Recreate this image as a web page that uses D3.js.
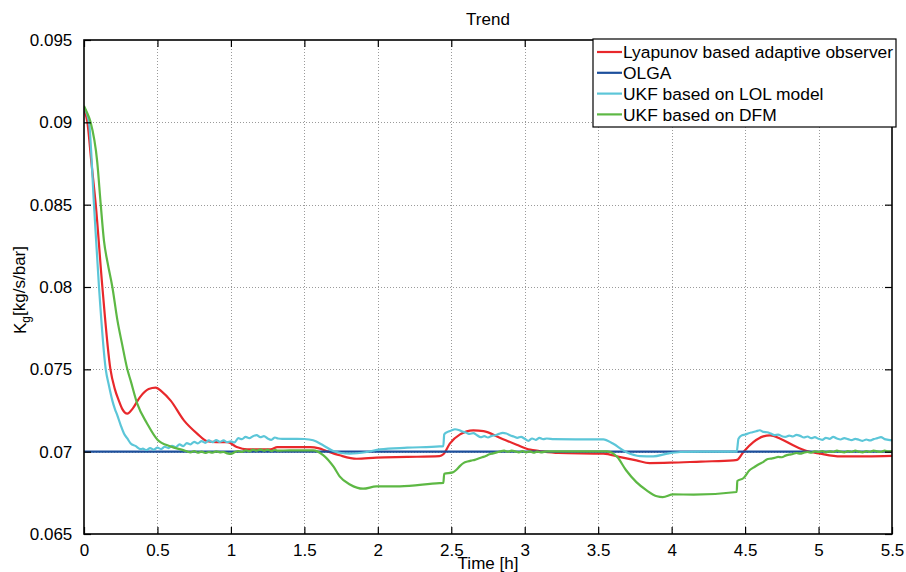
<!DOCTYPE html>
<html>
<head>
<meta charset="utf-8">
<script src="https://cdn.jsdelivr.net/npm/d3@7"></script>
<style>
  html, body { margin: 0; padding: 0; background: #fff; }
  svg { display: block; font-family: "Liberation Sans", Arial, Helvetica, sans-serif; }
</style>
</head>
<body>
<svg id="chart" width="906" height="572"></svg>
<script>
// Estimated gas coefficient K_g over time for four estimators.
const seriesNames = ["Lyapunov based adaptive observer", "OLGA", "UKF based on LOL model", "UKF based on DFM"];
const seriesColors = ["#e8282b", "#1c4f9c", "#5cc6d8", "#5db844"];

const xTicks = [0, 0.5, 1, 1.5, 2, 2.5, 3, 3.5, 4, 4.5, 5, 5.5];
const xTickLabels = ["0", "0.5", "1", "1.5", "2", "2.5", "3", "3.5", "4", "4.5", "5", "5.5"];
const yTicks = [0.065, 0.07, 0.075, 0.08, 0.085, 0.09, 0.095];
const yTickLabels = ["0.065", "0.07", "0.075", "0.08", "0.085", "0.09", "0.095"];

// Lyapunov based adaptive observer
const lyapT = [0, 0.023, 0.05, 0.08, 0.125, 0.18, 0.21, 0.237, 0.26, 0.295, 0.33, 0.38, 0.44, 0.488, 0.53, 0.59, 0.68, 0.77, 0.84, 0.9, 0.976, 1.04, 1.11, 1.27, 1.316, 1.54, 1.60, 1.65, 1.74, 1.856, 1.99, 2.2, 2.42, 2.446, 2.49, 2.56, 2.65, 2.72, 2.83, 2.945, 3.036, 3.10, 3.23, 3.535, 3.65, 3.76, 3.85, 3.99, 4.2, 4.42, 4.445, 4.49, 4.556, 4.624, 4.67, 4.74, 4.83, 4.92, 5.01, 5.15, 5.33, 5.5];
const lyapV = [0.0908, 0.0900, 0.0876, 0.0850, 0.0800, 0.0750, 0.0738, 0.0731, 0.0726, 0.07231, 0.0726, 0.0733, 0.0738, 0.07389, 0.07365, 0.0731, 0.0719, 0.0711, 0.07063, 0.07058, 0.07058, 0.07028, 0.07014, 0.07014, 0.07028, 0.07028, 0.0702, 0.07004, 0.06978, 0.06957, 0.06964, 0.06968, 0.06973, 0.06984, 0.07049, 0.07105, 0.07129, 0.07125, 0.07085, 0.07042, 0.07012, 0.07004, 0.06992, 0.06988, 0.06967, 0.06947, 0.06931, 0.06933, 0.0694, 0.06947, 0.0695, 0.0700, 0.07058, 0.07093, 0.07099, 0.07079, 0.07038, 0.07004, 0.06988, 0.06971, 0.06971, 0.06974];

// OLGA reference
const olgaT = [0, 5.5];
const olgaV = [0.07, 0.07];

// UKF based on LOL model
const lolT = [0, 0.034, 0.068, 0.102, 0.148, 0.17, 0.193, 0.21, 0.227, 0.25, 0.272, 0.295, 0.318, 0.35, 0.386,
  0.40, 0.425, 0.45, 0.475, 0.50, 0.525, 0.55, 0.575, 0.60, 0.625, 0.65, 0.675, 0.70, 0.725, 0.75, 0.775, 0.80, 0.825, 0.85, 0.875, 0.90, 0.925, 0.95, 0.975, 1.00, 1.025, 1.05, 1.075, 1.10, 1.125, 1.15, 1.175, 1.20, 1.225, 1.25, 1.275, 1.30, 1.32,
  1.35, 1.45, 1.50, 1.56, 1.63, 1.697, 1.75, 1.81, 1.925, 2.015, 2.2, 2.42, 2.446, 2.452,
  2.475, 2.50, 2.525, 2.55, 2.575, 2.60, 2.625, 2.65, 2.675, 2.70, 2.725, 2.75, 2.775, 2.80, 2.825, 2.85, 2.875, 2.90, 2.925, 2.95, 2.975, 3.00, 3.025, 3.05, 3.075, 3.10, 3.125, 3.15, 3.20,
  3.35, 3.535, 3.60, 3.69, 3.785, 3.875, 3.97, 4.06, 4.2, 4.443, 4.455,
  4.477, 4.50, 4.525, 4.55, 4.575, 4.60, 4.625, 4.65, 4.675, 4.70, 4.725, 4.75, 4.775, 4.80, 4.825, 4.85, 4.875, 4.90, 4.925, 4.95, 4.975, 5.00, 5.025, 5.05, 5.075, 5.10, 5.125, 5.15, 5.175, 5.20, 5.225, 5.25, 5.275, 5.30, 5.325, 5.35, 5.375, 5.40, 5.425, 5.45, 5.475, 5.50];
const lolV = [0.0909, 0.0900, 0.0850, 0.0800, 0.0750, 0.0740, 0.0731, 0.0726, 0.0722, 0.0716, 0.0711, 0.0708, 0.0705, 0.07035, 0.07015,
  0.07018, 0.07010, 0.07022, 0.07012, 0.07024, 0.07016, 0.07030, 0.07022, 0.07036, 0.07028, 0.07044, 0.07034, 0.07052, 0.07044, 0.07060, 0.07050, 0.07064, 0.07054, 0.07068, 0.07058, 0.07070, 0.07060, 0.07068, 0.07058, 0.07062, 0.07056, 0.07082, 0.07076, 0.07090, 0.07082, 0.07094, 0.07100, 0.07088, 0.07094, 0.07080, 0.07072, 0.07086, 0.07080,
  0.07078, 0.07078, 0.07077, 0.07069, 0.07038, 0.07004, 0.06992, 0.06988, 0.06998, 0.07014, 0.07024, 0.07032, 0.07034, 0.07105,
  0.07120, 0.07128, 0.07136, 0.07132, 0.07122, 0.07116, 0.07108, 0.07112, 0.07100, 0.07088, 0.07094, 0.07086, 0.07096, 0.07100, 0.07108, 0.07114, 0.07110, 0.07100, 0.07092, 0.07084, 0.07090, 0.07078, 0.07066, 0.07080, 0.07072, 0.07084, 0.07076, 0.07080, 0.07076,
  0.07075, 0.07075, 0.07049, 0.06998, 0.06973, 0.06971, 0.06988, 0.06998, 0.07000, 0.07000, 0.07079,
  0.07099, 0.07104, 0.07112, 0.07118, 0.07124, 0.07130, 0.07120, 0.07118, 0.07110, 0.07100, 0.07104, 0.07094, 0.07090, 0.07098, 0.07092, 0.07102, 0.07096, 0.07086, 0.07092, 0.07082, 0.07088, 0.07078, 0.07072, 0.07084, 0.07078, 0.07090, 0.07080, 0.07074, 0.07082, 0.07076, 0.07070, 0.07078, 0.07072, 0.07066, 0.07074, 0.07068, 0.07076, 0.07082, 0.07088, 0.07076, 0.07072, 0.07068];

// UKF based on DFM
const dfmT = [0, 0.02, 0.045, 0.09, 0.114, 0.136, 0.16, 0.193, 0.227, 0.26, 0.295, 0.318, 0.363, 0.43, 0.5, 0.59, 0.68,
  0.70, 0.725, 0.75, 0.775, 0.80, 0.825, 0.85, 0.875, 0.90, 0.925, 0.95, 0.975, 1.00, 1.025, 1.05, 1.075, 1.10, 1.125, 1.15, 1.175, 1.20, 1.225, 1.25, 1.275, 1.30, 1.32,
  1.40, 1.56, 1.63, 1.70, 1.74, 1.81, 1.90, 1.99, 2.15, 2.42, 2.446, 2.452, 2.51,
  2.535, 2.56, 2.585, 2.61, 2.635, 2.66, 2.685, 2.71, 2.735, 2.76, 2.785, 2.81, 2.835, 2.86, 2.885, 2.91, 2.935, 2.96, 2.985, 3.01, 3.035, 3.06, 3.085, 3.11, 3.15,
  3.56, 3.63, 3.69, 3.76, 3.83, 3.90, 3.94, 4.01, 4.15, 4.443, 4.447, 4.49, 4.53,
  4.56, 4.60, 4.625, 4.647, 4.675, 4.70, 4.725, 4.75, 4.775, 4.80, 4.825, 4.85, 4.875, 4.90, 4.925, 4.95, 4.975, 5.00, 5.025, 5.05, 5.075, 5.10, 5.125, 5.15, 5.175, 5.20, 5.225, 5.25, 5.275, 5.30, 5.325, 5.35, 5.375, 5.40, 5.425, 5.45, 5.475, 5.50];
const dfmV = [0.0910, 0.0906, 0.0900, 0.0876, 0.0850, 0.0828, 0.0815, 0.0800, 0.0780, 0.0765, 0.0750, 0.0743, 0.0729, 0.0717, 0.07073, 0.07032, 0.07008,
  0.07002, 0.06996, 0.07004, 0.06994, 0.07000, 0.06992, 0.06998, 0.06994, 0.07002, 0.06996, 0.06998, 0.06990, 0.06986, 0.06996, 0.07004, 0.06998, 0.07008, 0.07002, 0.07012, 0.07006, 0.07014, 0.07006, 0.07012, 0.07004, 0.07010, 0.07006,
  0.07008, 0.07008, 0.06978, 0.06907, 0.06850, 0.06801, 0.06775, 0.06789, 0.06789, 0.06809, 0.06810, 0.06866, 0.06874,
  0.06890, 0.06914, 0.06932, 0.06940, 0.06946, 0.06950, 0.06958, 0.06966, 0.06974, 0.06984, 0.06990, 0.06996, 0.07002, 0.07006, 0.07000, 0.07006, 0.07002, 0.06996, 0.07004, 0.06996, 0.07002, 0.06994, 0.07000, 0.06996, 0.07002,
  0.07002, 0.06967, 0.06887, 0.06815, 0.06765, 0.06729, 0.06724, 0.06741, 0.06739, 0.06755, 0.06822, 0.06840, 0.06887,
  0.06905, 0.06927, 0.06938, 0.06953, 0.06958, 0.06962, 0.06968, 0.06966, 0.06976, 0.06982, 0.06986, 0.06992, 0.06988, 0.06994, 0.06998, 0.06994, 0.07002, 0.06998, 0.07004, 0.06996, 0.07002, 0.06998, 0.07006, 0.07000, 0.06996, 0.07004, 0.06998, 0.07006, 0.07000, 0.06996, 0.07004, 0.06998, 0.07006, 0.07002, 0.06998, 0.07006, 0.07002, 0.07004];

const seriesT = [lyapT, olgaT, lolT, dfmT];
const seriesV = [lyapV, olgaV, lolV, dfmV];

const svg = d3.select("#chart");
const plotL = 84, plotR = 892, plotT = 40, plotB = 534;
const fontSize = 17;
const legendFontSize = 17.4;

const x = d3.scaleLinear().domain([0, 5.5]).range([plotL, plotR]);
const y = d3.scaleLinear().domain([0.065, 0.095]).range([plotB, plotT]);

svg.append("defs").append("clipPath").attr("id", "plotClip")
  .append("rect").attr("x", plotL).attr("y", plotT).attr("width", plotR - plotL).attr("height", plotB - plotT);

// dotted grid
const grid = svg.append("g").attr("stroke", "#9a9a9a").attr("stroke-width", 1).attr("stroke-dasharray", "1,2");
grid.selectAll("line.gx").data(xTicks.slice(1, -1)).join("line")
  .attr("x1", d => Math.round(x(d)) + 0.5).attr("x2", d => Math.round(x(d)) + 0.5)
  .attr("y1", plotT).attr("y2", plotB);
grid.selectAll("line.gy").data(yTicks.slice(1, -1)).join("line")
  .attr("y1", d => Math.round(y(d)) + 0.5).attr("y2", d => Math.round(y(d)) + 0.5)
  .attr("x1", plotL).attr("x2", plotR);

// data lines
const lines = svg.append("g").attr("clip-path", "url(#plotClip)");
const lineGen = d3.line().x(d => x(d[0])).y(d => y(d[1])).curve(d3.curveMonotoneX);
seriesNames.forEach((name, i) => {
  const pts = seriesT[i].map((t, j) => [t, seriesV[i][j]]);
  lines.append("path").datum(pts)
    .attr("fill", "none")
    .attr("stroke", seriesColors[i])
    .attr("stroke-width", 2.2)
    .attr("stroke-linejoin", "round")
    .attr("d", lineGen);
});

// axes with inward ticks on all four sides
const tickLen = 7;
const axBottom = d3.axisBottom(x).tickValues(xTicks).tickFormat((d, i) => xTickLabels[i]).tickSizeInner(-tickLen).tickSizeOuter(0).tickPadding(10);
const axTop = d3.axisTop(x).tickValues(xTicks).tickFormat("").tickSizeInner(-tickLen).tickSizeOuter(0);
const axLeft = d3.axisLeft(y).tickValues(yTicks).tickFormat((d, i) => yTickLabels[i]).tickSizeInner(-tickLen).tickSizeOuter(0).tickPadding(10);
const axRight = d3.axisRight(y).tickValues(yTicks).tickFormat("").tickSizeInner(-tickLen).tickSizeOuter(0);

function styleAxis(g) {
  g.select(".domain").remove();
  g.selectAll(".tick line").attr("stroke", "#000").attr("stroke-width", 1.2);
  g.selectAll(".tick text").attr("fill", "#000").style("font-size", fontSize + "px")
    .style("font-family", "'Liberation Sans', Arial, Helvetica, sans-serif");
}
svg.append("g").attr("transform", `translate(0,${plotB})`).call(axBottom).call(styleAxis);
svg.append("g").attr("transform", `translate(0,${plotT})`).call(axTop).call(styleAxis);
svg.append("g").attr("transform", `translate(${plotL},0)`).call(axLeft).call(styleAxis)
  .selectAll(".tick text").attr("dx", "-0.1em");
svg.append("g").attr("transform", `translate(${plotR},0)`).call(axRight).call(styleAxis);

// axes box
svg.append("rect").attr("x", plotL).attr("y", plotT).attr("width", plotR - plotL).attr("height", plotB - plotT)
  .attr("fill", "none").attr("stroke", "#000").attr("stroke-width", 1.6);

// title and axis labels
svg.append("text").attr("x", (plotL + plotR) / 2).attr("y", 25).attr("text-anchor", "middle")
  .style("font-size", fontSize + "px").text("Trend");
svg.append("text").attr("x", (plotL + plotR) / 2).attr("y", 569).attr("text-anchor", "middle")
  .style("font-size", fontSize + "px").text("Time [h]");
const yl = svg.append("text").attr("transform", "translate(26,290) rotate(-90)").attr("text-anchor", "middle")
  .style("font-size", fontSize + "px");
yl.append("tspan").text("K");
yl.append("tspan").attr("dy", "0.3em").style("font-size", "12px").text("g");
yl.append("tspan").attr("dy", "-0.3em").text("[kg/s/bar]");

// legend
const lgX = 593, lgY = 39, lgW = 303, lgH = 88, rowH = 20.8;
const legend = svg.append("g");
legend.append("rect").attr("x", lgX).attr("y", lgY).attr("width", lgW).attr("height", lgH)
  .attr("fill", "#fff").attr("stroke", "#000").attr("stroke-width", 1.2);
seriesNames.forEach((name, i) => {
  const cy = 52 + i * rowH;
  legend.append("line").attr("x1", 597).attr("x2", 622).attr("y1", cy).attr("y2", cy)
    .attr("stroke", seriesColors[i]).attr("stroke-width", 2.2);
  legend.append("text").attr("x", 623).attr("y", cy).attr("dy", "0.36em")
    .style("font-size", legendFontSize + "px").text(name);
});
</script>
</body>
</html>
